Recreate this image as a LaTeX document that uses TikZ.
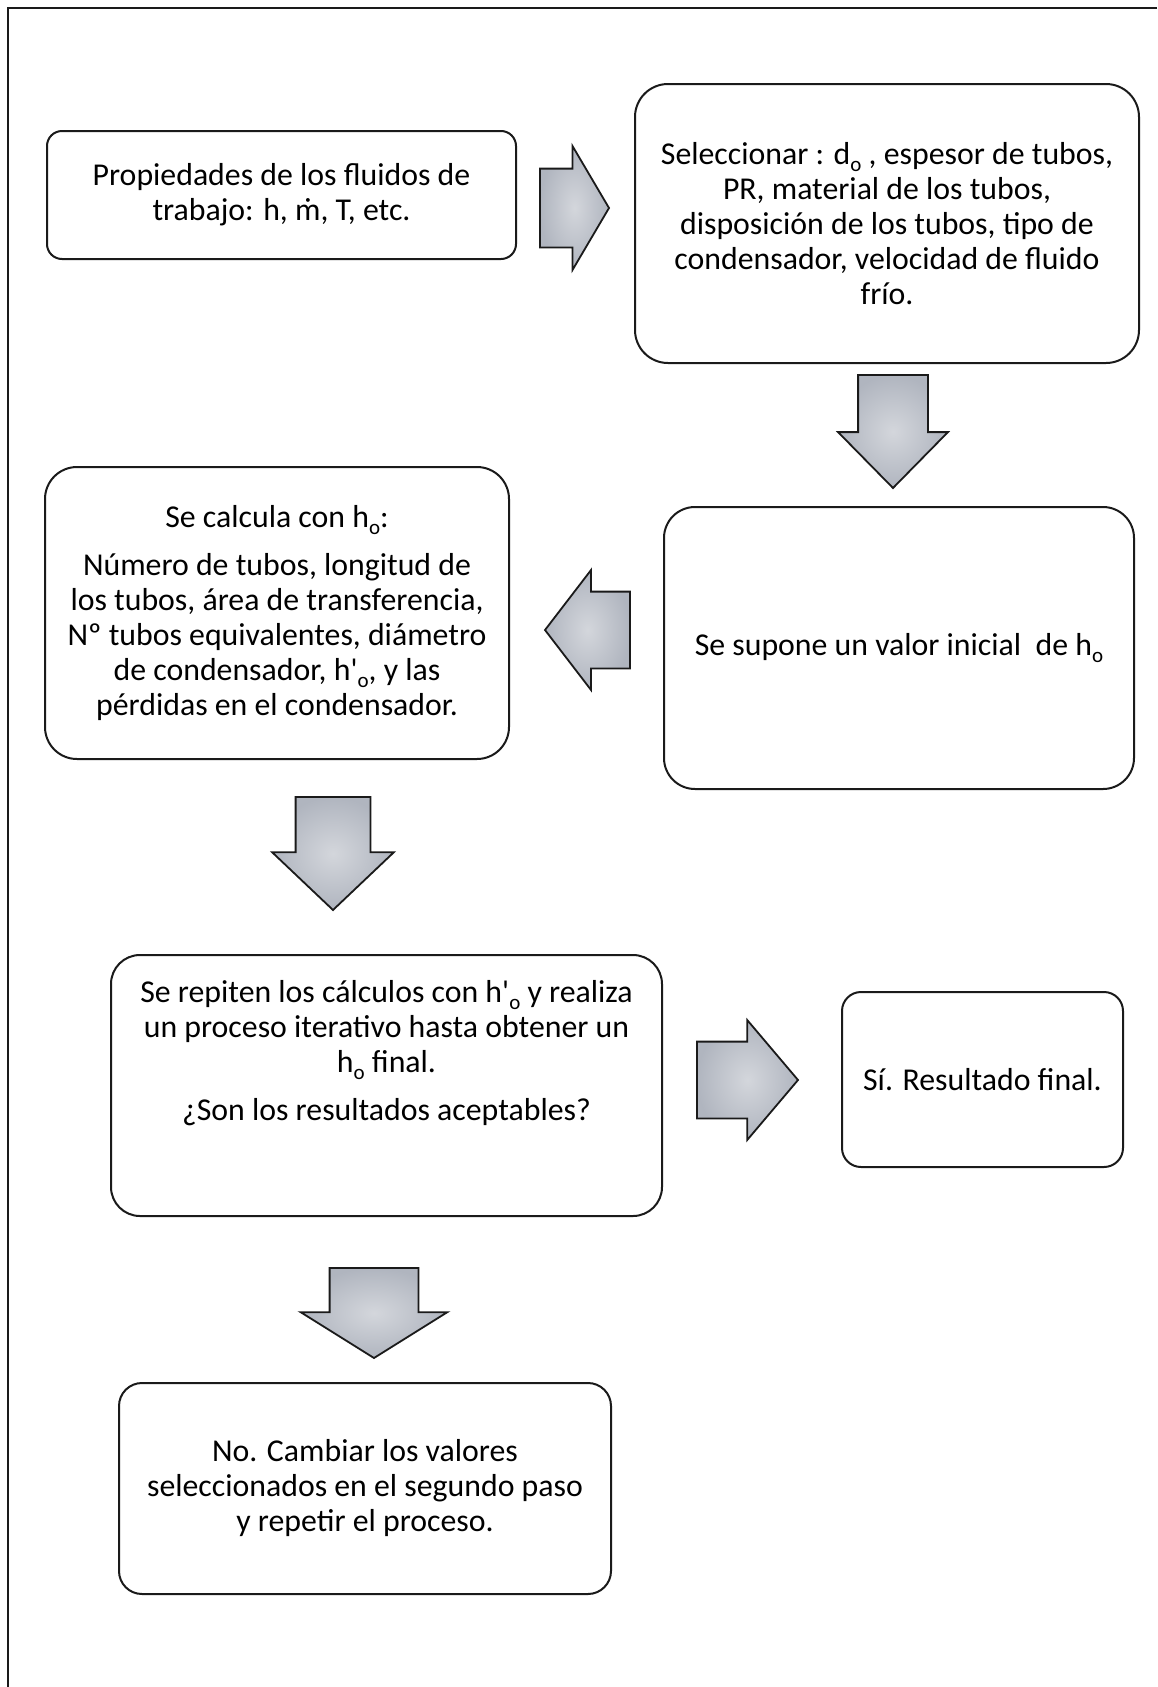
\documentclass[tikz,border=0pt]{standalone}
\usepackage{fontspec}
\setmainfont{Carlito}[Ligatures=TeXOff]
\usetikzlibrary{shapes.arrows}
\definecolor{cborde}{HTML}{1A1A1A}
\definecolor{cflecha}{HTML}{B0B5BF}
\newcommand{\bajo}[1]{\raisebox{-0.22em}{\fontsize{10.5}{10}\selectfont #1}}
\tikzset{
  every picture/.style={line width=1pt},
  paso/.style={draw=cborde, rounded corners=#1, align=center, inner sep=0pt, font=\fontsize{15.9}{17.5}\selectfont},
  paso/.default=12pt,
  flecha/.style={single arrow, draw=cborde, inner color=cflecha!55!white, outer color=cflecha, line width=0.9pt, inner xsep=0pt, outer sep=0pt, anchor=tip, single arrow head indent=0pt},
}

\begin{document}
\begin{tikzpicture}[x=0.5pt, y=-0.5pt]
  \useasboundingbox (0,0) rectangle (1157,1687);
  \draw[cborde] (1157,8) -- (8,8) -- (8,1687);
  \node[paso=7.5pt, minimum width=234.5pt, minimum height=64pt] (propiedades) at (281.5,195) {Propiedades de los fluidos de\\trabajo: h, ṁ, T, etc.};
  \node[paso=16.5pt, minimum width=252pt, minimum height=139.5pt] (seleccion) at (887,223.5) {Seleccionar : d\bajo{o} , espesor de tubos,\\PR, material de los tubos,\\disposición de los tubos, tipo de\\condensador, velocidad de fluido\\frío.};
  \node[paso=15.5pt, minimum width=235pt, minimum height=141pt] (supone) at (899,648) {Se supone un valor inicial \ de h\bajo{o}};
  \node[paso=16pt, minimum width=232pt, minimum height=146pt] (calcula) at (277,613) {Se calcula con h\bajo{o}:\\[6.5pt]Número de tubos, longitud de\\los tubos, área de transferencia,\\Nº tubos equivalentes, diámetro\\de condensador, h'\bajo{o}, y las\\pérdidas en el condensador.};
  \node[paso=14.5pt, minimum width=275.5pt, minimum height=130.5pt] (repite) at (386.5,1085.5) {Se repiten los cálculos con h'\bajo{o} y realiza\\un proceso iterativo hasta obtener un\\h\bajo{o} final.\\[6.5pt]¿Son los resultados aceptables?\\[17.5pt]\mbox{}};
  \node[paso=9.5pt, minimum width=140.5pt, minimum height=87.5pt] (si) at (982.5,1079.5) {Sí. Resultado final.};
  \node[paso=11.5pt, minimum width=246pt, minimum height=105.5pt] (no) at (365,1488.5) {No. Cambiar los valores\\seleccionados en el segundo paso\\y repetir el proceso.};
  \node[flecha, minimum height=34.5pt, inner ysep=19.25pt, single arrow head extend=11.25pt, single arrow tip angle=119] (f1) at (609,208) {};
  \node[flecha, rotate=-90, minimum height=56.5pt, inner ysep=17pt, single arrow head extend=10pt, single arrow tip angle=89] (f2) at (893,488) {};
  \node[flecha, rotate=180, minimum height=42.5pt, inner ysep=18.75pt, single arrow head extend=10.75pt, single arrow tip angle=105] (f3) at (545,630) {};
  \node[flecha, rotate=-90, minimum height=56.5pt, inner ysep=18.25pt, single arrow head extend=11.75pt, single arrow tip angle=93] (f4) at (333,910) {};
  \node[flecha, minimum height=50.5pt, inner ysep=18.75pt, single arrow head extend=10.75pt, single arrow tip angle=99.5] (f5) at (798,1080) {};
  \node[flecha, rotate=-90, minimum height=45pt, inner ysep=21.75pt, single arrow head extend=14.5pt, single arrow tip angle=116] (f6) at (374,1358) {};
\end{tikzpicture}
\end{document}
